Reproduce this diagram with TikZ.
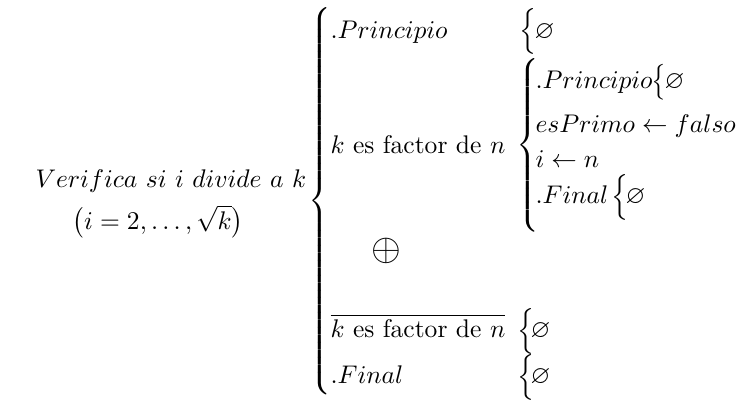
\documentclass[tikz,border=0pt]{standalone}
\usepackage{amssymb}
\usepackage{graphicx}
\newcommand\xbrace[1]{\ensuremath{\delimitershortfall=0pt\delimiterfactor=1000\left\{\vcenter{\hbox{\vrule height #1 width 0pt}}\right.}}
\newcommand\fitbrace[1]{\resizebox*{\width}{#1}{\xbrace{#1}}}
\begin{document}
\begin{tikzpicture}[x=0.392pt,y=-0.392pt,
  txt/.style={anchor=base west,inner sep=0pt},
  brc/.style={anchor=west,inner sep=0pt}]
\useasboundingbox (0,0) rectangle (745,403);
% left label
\node[txt] (v1) at (35,187) {$Verifica\ si\ i\ divide\ a\ k$};
\node[txt] (v2) at (72,229) {$\bigl(i=2,\ldots,\sqrt{k}\bigr)$};
% outer brace
\node[brc] (B) at (308,201) {\fitbrace{152pt}};
% first row
\node[txt] (p1) at (330,38) {$.Principio$};
\node[brc] (bp1) at (519,31.5) {$\Big\{$};
\node[txt] (e1) at (534,38) {$\varnothing$};
% second row
\node[txt] (k1) at (330,153) {$k$ es factor de $n$};
\node[brc] (bk1) at (516,145) {\fitbrace{68pt}};
\node[txt] (ip) at (535,88) {$.Principio$};
\node[brc] (bip) at (651,82) {\scalebox{1}[1.17]{$\big\{$}};
\node[txt] (eip) at (664,88) {$\varnothing$};
\node[txt] (ie) at (535,132) {$esPrimo\leftarrow falso$};
\node[txt] (ii) at (535,167) {$i\leftarrow n$};
\node[txt] (if) at (535,203) {$.Final$};
\node[brc] (bif) at (611,197) {$\Big\{$};
\node[txt] (eif) at (625,203) {$\varnothing$};
% exclusive or
\node[inner sep=0pt] (op) at (386,251) {\scalebox{1.5}{$\oplus$}};
% negated row
\node[txt] (k2) at (330,337) {$\overline{k\mbox{ es factor de }n}$};
\node[brc] (bk2) at (517,331) {$\Big\{$};
\node[txt] (e2) at (530,337) {$\varnothing$};
% final row
\node[txt] (f2) at (330,383) {$.Final$};
\node[brc] (bf2) at (517,377) {$\Big\{$};
\node[txt] (e3) at (530,383) {$\varnothing$};
\end{tikzpicture}
\end{document}
